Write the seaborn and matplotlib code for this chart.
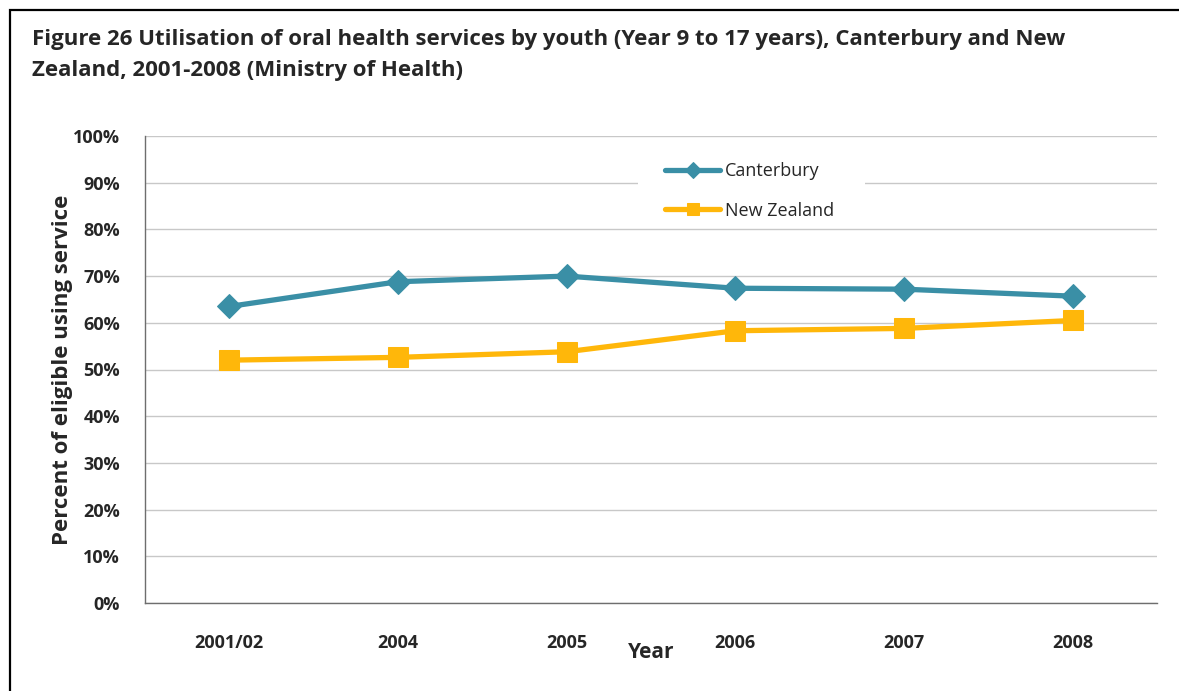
import matplotlib
matplotlib.use("Agg")
import matplotlib.pyplot as plt
import seaborn as sns
import pandas as pd
from matplotlib.patches import Rectangle
from matplotlib.ticker import FixedLocator, PercentFormatter

years = ["2001/02", "2004", "2005", "2006", "2007", "2008"]
canterbury = [63.5, 68.8, 70.0, 67.4, 67.2, 65.7]
new_zealand = [52.0, 52.6, 53.8, 58.3, 58.8, 60.5]
y_ticks = [0, 10, 20, 30, 40, 50, 60, 70, 80, 90, 100]

title = ("Figure 26 Utilisation of oral health services by youth (Year 9 to 17 years), Canterbury and New\n"
         "Zealand, 2001-2008 (Ministry of Health)")

sns.set_theme(style="white")
plt.rcParams["font.family"] = ["Open Sans", "DejaVu Sans"]

df = pd.DataFrame({
    "Year": years * 2,
    "Value": canterbury + new_zealand,
    "Region": ["Canterbury"] * len(years) + ["New Zealand"] * len(years),
})

W, H = 1179, 691
fig = plt.figure(figsize=(W / 100, H / 100), dpi=100)
L, R, T, B = 145, 1157, 136, 603
ax = fig.add_axes([L / W, 1 - B / H, (R - L) / W, (B - T) / H])

def ax_x(px):
    return (px - L) / (R - L)

def ax_y(py):
    return 1 - (py - T) / (B - T)

teal = "#3A8FA6"
gold = "#FFB70A"
palette = {"Canterbury": teal, "New Zealand": gold}
markers = {"Canterbury": "D", "New Zealand": "s"}
sizes = {"Canterbury": 12.5, "New Zealand": 15}

for region in ["Canterbury", "New Zealand"]:
    sub = df[df["Region"] == region]
    sns.lineplot(data=sub, x="Year", y="Value", ax=ax, color=palette[region],
                 marker=markers[region], markersize=sizes[region],
                 markeredgecolor=palette[region], linewidth=3.8, sort=False,
                 label=region, zorder=3)

ax.set_xlim(-0.5, len(years) - 0.5)
ax.set_ylim(0, 100)
ax.yaxis.set_major_locator(FixedLocator(y_ticks))
ax.yaxis.set_major_formatter(PercentFormatter(decimals=0))
ax.grid(axis="y", color="#C8C8C8", linewidth=1.0)
ax.set_axisbelow(True)

for s in ["top", "right"]:
    ax.spines[s].set_visible(False)
for s in ["left", "bottom"]:
    ax.spines[s].set_color("#6E6E6E")
    ax.spines[s].set_linewidth(1.0)

ax.set_xticks(range(len(years)))
ax.set_xticklabels(years, fontsize=13, fontweight="bold")
ax.set_xticks([i - 0.5 for i in range(len(years) + 1)], minor=True)
ax.tick_params(axis="x", which="major", length=0, pad=22)
ax.tick_params(axis="x", which="minor", length=6, width=1, color="#6E6E6E", direction="out")
ax.tick_params(axis="y", which="major", length=6, width=1, color="#6E6E6E",
               direction="out", labelsize=13, pad=12)
for lab in ax.get_yticklabels():
    lab.set_fontweight("bold")

ax.set_xlabel("Year", fontsize=15, fontweight="bold", labelpad=-7)
ax.set_ylabel("Percent of eligible using service", fontsize=16, fontweight="bold", labelpad=0)

# white legend background box (Excel-style legend area)
ax.add_patch(Rectangle((ax_x(638), ax_y(225)), ax_x(865) - ax_x(638), ax_y(150) - ax_y(225),
                       transform=ax.transAxes, facecolor="white", edgecolor="none", zorder=1.5))

leg = ax.legend(loc="upper left", bbox_to_anchor=(ax_x(665), ax_y(162)),
                frameon=False, fontsize=13, handlelength=3.05, borderpad=0,
                labelspacing=1.2, handletextpad=0.28, borderaxespad=0)
for h in leg.legend_handles:
    h.set_markersize(8)
    h.set_linewidth(3.8)

fig.text(32 / W, 1 - 29 / H, title, fontsize=16, fontweight="bold",
         ha="left", va="top", linespacing=1.65)

fig.patches.append(Rectangle((10 / W, -0.05), 1.1, 1 - 10 / H + 0.05,
                             transform=fig.transFigure, fill=False,
                             edgecolor="black", linewidth=1.6, zorder=0))

fig.savefig("out.png", dpi=100)
